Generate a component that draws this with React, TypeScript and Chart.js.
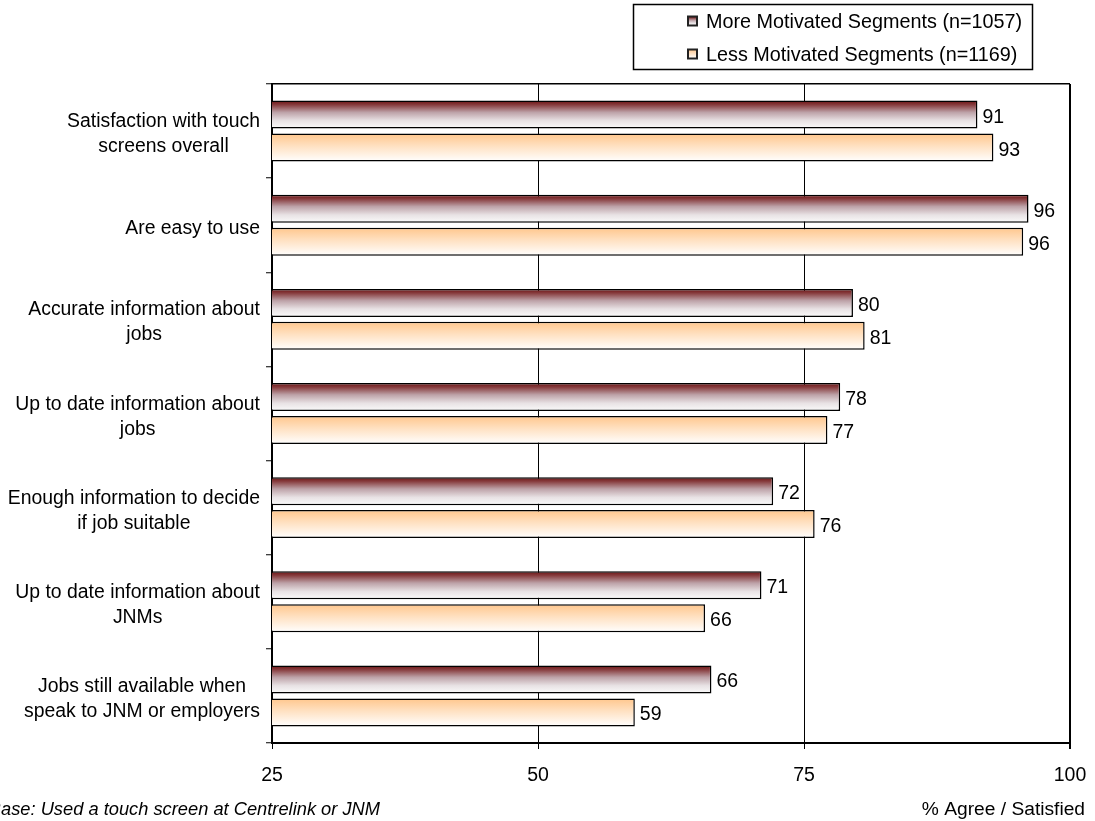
import React, { useEffect, useRef } from 'react';
import { Chart, registerables } from 'chart.js';

Chart.register(...registerables);

// ---- Data ----
const categories: string[][] = [
  ['Satisfaction with touch', 'screens overall'],
  ['Are easy to use'],
  ['Accurate information about', 'jobs'],
  ['Up to date information about', 'jobs'],
  ['Enough information to decide', 'if job suitable'],
  ['Up to date information about', 'JNMs'],
  ['Jobs still available when', 'speak to JNM or employers'],
];
const seriesNames = ['More Motivated Segments (n=1057)', 'Less Motivated Segments (n=1169)'];
const moreMotivated = [91.3, 96.1, 79.6, 78.4, 72.1, 71.0, 66.3];
const lessMotivated = [92.8, 95.6, 80.7, 77.2, 76.0, 65.7, 59.1];
const xMin = 25;
const xMax = 100;
const xStep = 25;
const footerLeft = 'Base: Used a touch screen at Centrelink or JNM';
const footerRight = '% Agree / Satisfied';

// ---- Styles ----
const FONT = '"Liberation Sans", Arial, sans-serif';
const CAT_PCT = 0.7;
const BAR_PCT = 0.85;
const maroonStops: [number, string][] = [
  [0, '#6a1212'],
  [0.15, '#873c3e'],
  [0.42, '#bda2a8'],
  [0.72, '#e8e2e4'],
  [1, '#fbfbfb'],
];
const orangeStops: [number, string][] = [
  [0, '#ffc68c'],
  [0.45, '#ffe1c2'],
  [1, '#ffffff'],
];
const seriesStops = [maroonStops, orangeStops];

function makeGradient(c: CanvasRenderingContext2D, y0: number, y1: number, stops: [number, string][]) {
  const g = c.createLinearGradient(0, y0, 0, y1);
  stops.forEach(([o, col]) => g.addColorStop(o, col));
  return g;
}

function barFill(stops: [number, string][]) {
  return (ctx: any) => {
    const chart = ctx.chart;
    const area = chart.chartArea;
    if (!area || ctx.type !== 'data') return stops[0][1];
    const yScale = chart.scales.y;
    const n = chart.data.labels.length;
    const band = (area.bottom - area.top) / n;
    const slot = (band * CAT_PCT) / 2;
    const yc = yScale.getPixelForValue(ctx.dataIndex) + (ctx.datasetIndex - 0.5) * slot;
    const h = (slot * BAR_PCT) / 2;
    return makeGradient(chart.ctx, yc - h, yc + h, stops);
  };
}

const textPlugin = {
  id: 'textPlugin',
  afterDraw(chart: any) {
    const c: CanvasRenderingContext2D = chart.ctx;
    const area = chart.chartArea;
    const yScale = chart.scales.y;
    c.save();
    c.fillStyle = '#000';

    // category labels (each block centred on itself, right edge near axis)
    c.font = `19.4px ${FONT}`;
    c.textAlign = 'center';
    c.textBaseline = 'alphabetic';
    categories.forEach((lines, i) => {
      const yc = yScale.getPixelForValue(i);
      const w = Math.max(...lines.map((l) => c.measureText(l).width));
      const cx = area.left - 12 - w / 2;
      lines.forEach((l, j) => {
        c.fillText(l, cx, yc + 8.5 + (j - (lines.length - 1) / 2) * 25);
      });
    });

    // value labels
    c.font = `19.5px ${FONT}`;
    c.textAlign = 'left';
    chart.data.datasets.forEach((ds: any, d: number) => {
      const meta = chart.getDatasetMeta(d);
      meta.data.forEach((el: any, i: number) => {
        c.fillText(String(Math.round(ds.data[i])), el.x + 5, el.y + 8);
      });
    });

    // legend box
    c.lineWidth = 1.5;
    c.strokeStyle = '#000';
    c.strokeRect(633.5, 4.5, 399, 65);
    c.font = `19.8px ${FONT}`;
    const rows = [21, 54];
    seriesNames.forEach((name, k) => {
      const my = rows[k];
      c.fillStyle = makeGradient(c, my - 4.5, my + 4.5, seriesStops[k]);
      c.fillRect(688, my - 4.5, 9, 9);
      c.lineWidth = 2;
      c.strokeStyle = '#222';
      c.strokeRect(688, my - 4.5, 9, 9);
      c.fillStyle = '#000';
      c.fillText(name, 706, my + 6.5);
    });

    // footers
    c.font = `italic 18.3px ${FONT}`;
    c.textAlign = 'right';
    c.fillText(footerLeft, 380, 815);
    c.font = `19.2px ${FONT}`;
    c.fillText(footerRight, 1085, 815);
    c.restore();
  },
};

export default function App() {
  const ref = useRef<HTMLCanvasElement | null>(null);

  useEffect(() => {
    if (!ref.current) return;
    const chart = new Chart(ref.current, {
      type: 'bar',
      data: {
        labels: categories.map((l) => l.join(' ')),
        datasets: [
          {
            label: seriesNames[0],
            data: moreMotivated,
            backgroundColor: barFill(maroonStops),
            borderColor: '#000',
            borderWidth: 1.5,
            categoryPercentage: CAT_PCT,
            barPercentage: BAR_PCT,
          },
          {
            label: seriesNames[1],
            data: lessMotivated,
            backgroundColor: barFill(orangeStops),
            borderColor: '#000',
            borderWidth: 1.5,
            categoryPercentage: CAT_PCT,
            barPercentage: BAR_PCT,
          },
        ],
      },
      options: {
        indexAxis: 'y',
        animation: false,
        responsive: false,
        devicePixelRatio: 1,
        events: [],
        layout: { autoPadding: false, padding: { top: 84, right: 25, left: 0, bottom: 0 } },
        plugins: {
          legend: { display: false },
          tooltip: { enabled: false },
          title: { display: false },
        },
        scales: {
          x: {
            type: 'linear',
            min: xMin,
            max: xMax,
            ticks: {
              stepSize: xStep,
              color: '#000',
              font: { family: FONT, size: 19.5 },
              padding: 15,
              maxRotation: 0,
            },
            grid: {
              color: '#000',
              lineWidth: (c: any) => (c.tick && c.tick.value === xMax ? 2 : 1),
              tickLength: 6,
              tickColor: '#000',
              drawTicks: true,
            },
            border: { color: '#000', width: 2 },
            afterFit: (s: any) => {
              s.height = 78;
              s.paddingLeft = 0;
              s.paddingRight = 0;
            },
          },
          y: {
            type: 'category',
            offset: true,
            ticks: { display: false },
            grid: {
              offset: true,
              color: (c: any) => (c.index === 0 ? '#000' : 'rgba(0,0,0,0)'),
              lineWidth: 1.5,
              tickLength: 6,
              tickColor: '#000',
              tickWidth: 1,
              drawTicks: true,
            },
            border: { color: '#000', width: 2 },
            afterFit: (s: any) => {
              s.width = 272;
              s.paddingTop = 0;
              s.paddingBottom = 0;
            },
          },
        },
      },
      plugins: [textPlugin],
    } as any);
    return () => chart.destroy();
  }, []);

  return (
    <div style={{ position: 'absolute', left: 0, top: 0, width: 1095, height: 821, background: '#fff' }}>
      <canvas ref={ref} width={1095} height={821} style={{ width: 1095, height: 821, display: 'block' }} />
    </div>
  );
}
